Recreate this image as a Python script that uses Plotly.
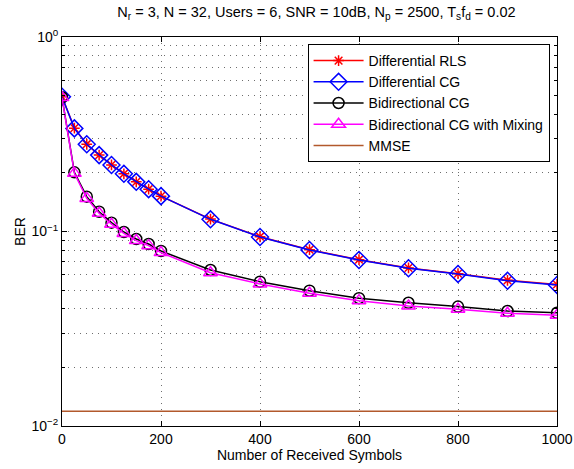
import plotly.graph_objects as go

symbols = [0, 25, 50, 75, 100, 125, 150, 175, 200, 300, 400, 500, 600, 700, 800, 900, 1000]

ber_diff_rls = [0.493, 0.340, 0.281, 0.247, 0.220, 0.198, 0.180, 0.165, 0.152, 0.1158, 0.0940,
                0.0806, 0.0716, 0.0650, 0.0607, 0.0561, 0.0534]
ber_diff_cg = [0.493, 0.339, 0.281, 0.247, 0.2197, 0.198, 0.180, 0.165, 0.152, 0.1155, 0.0937,
               0.0803, 0.0714, 0.0647, 0.0605, 0.0558, 0.0531]
ber_bi_cg = [0.490, 0.2015, 0.151, 0.1264, 0.111, 0.0994, 0.0915, 0.0862, 0.0794, 0.0634, 0.0552,
             0.0496, 0.0454, 0.0430, 0.0411, 0.0390, 0.0382]
ber_bi_cg_mix = [0.488, 0.199, 0.148, 0.124, 0.109, 0.0978, 0.0898, 0.0846, 0.0779, 0.0614, 0.0537,
                 0.0481, 0.0441, 0.0414, 0.0398, 0.0380, 0.0371]
ber_mmse = [0.0119] * len(symbols)

names = ["Differential RLS", "Differential CG", "Bidirectional CG",
         "Bidirectional CG with Mixing", "MMSE"]

x_ticks = [0, 200, 400, 600, 800, 1000]
y_major = [0.01, 0.1, 1.0]
y_major_labels = ["10<sup>−2</sup>", "10<sup>−1</sup>", "10<sup>0</sup>"]
y_minor = [round(d * m, 4) for d in [0.01, 0.1] for m in range(2, 10)]

FONT = "Liberation Sans, Arial, sans-serif"
GRID = "rgb(110,110,110)"

fig = go.Figure()
fig.add_trace(go.Scatter(x=symbols, y=ber_diff_rls, name=names[0], mode="lines+markers",
                         line=dict(color="#ff0000", width=1.5),
                         marker=dict(symbol="asterisk-open", size=9, color="#ff0000",
                                     line=dict(color="#ff0000", width=1.5))))
fig.add_trace(go.Scatter(x=symbols, y=ber_diff_cg, name=names[1], mode="lines+markers",
                         line=dict(color="#0000ff", width=1.5),
                         marker=dict(symbol="diamond-open", size=13, color="#0000ff",
                                     line=dict(color="#0000ff", width=1.5))))
fig.add_trace(go.Scatter(x=symbols, y=ber_bi_cg, name=names[2], mode="lines+markers",
                         line=dict(color="#000000", width=1.5),
                         marker=dict(symbol="circle-open", size=11, color="#000000",
                                     line=dict(color="#000000", width=1.5))))
fig.add_trace(go.Scatter(x=symbols, y=ber_bi_cg_mix, name=names[3], mode="lines+markers",
                         line=dict(color="#ff00ff", width=1.5),
                         marker=dict(symbol="triangle-up-open", size=12, color="#ff00ff",
                                     line=dict(color="#ff00ff", width=1.5))))
fig.add_trace(go.Scatter(x=symbols, y=ber_mmse, name=names[4], mode="lines",
                         line=dict(color="rgb(178,89,44)", width=1.5)))

fig.update_layout(
    width=574, height=469,
    paper_bgcolor="white", plot_bgcolor="white",
    margin=dict(l=62, r=17, t=37, b=43, autoexpand=False),
    font=dict(family=FONT, size=14, color="black"),
    title=dict(text="N<sub>r</sub> = 3, N = 32, Users = 6, SNR = 10dB, N<sub>p</sub> = 2500, "
                    "T<sub>s</sub>f<sub>d</sub> = 0.02",
               x=0.514, xref="paper", xanchor="center", y=0.986, yanchor="top",
               pad=dict(t=0, b=0),
               font=dict(family=FONT, size=14.5, color="black")),
    showlegend=True,
    legend=dict(x=0.985, y=0.982, xanchor="right", yanchor="top",
                bgcolor="white", bordercolor="black", borderwidth=1,
                font=dict(family=FONT, size=14, color="black"),
                tracegroupgap=0, itemwidth=50),
)

fig.update_xaxes(
    range=[0, 1000], tickvals=x_ticks, ticktext=[str(t) for t in x_ticks],
    showline=True, linecolor="black", linewidth=1, mirror="ticks",
    ticks="inside", ticklen=5, tickcolor="black",
    showgrid=True, gridcolor=GRID, griddash="1px,5px", gridwidth=1,
    zeroline=False, automargin=False,
    title=dict(text="Number of Received Symbols", standoff=2,
               font=dict(family=FONT, size=14, color="black")),
    tickfont=dict(family=FONT, size=14, color="black"),
)
fig.update_yaxes(
    type="log", range=[-2, 0], tickvals=y_major, ticktext=y_major_labels,
    showline=True, linecolor="black", linewidth=1, mirror="ticks",
    ticks="inside", ticklen=5, tickcolor="black",
    showgrid=True, gridcolor=GRID, griddash="1px,5px", gridwidth=1,
    minor=dict(tickvals=y_minor, ticks="inside", ticklen=3, tickcolor="black",
               showgrid=True, gridcolor=GRID, griddash="1px,5px", gridwidth=1),
    zeroline=False, automargin=False,
    title=dict(text="BER", standoff=2,
               font=dict(family=FONT, size=14, color="black")),
    tickfont=dict(family=FONT, size=14, color="black"),
)

fig.write_html("out.html", config={"displayModeBar": False},
               post_script="document.body.style.margin='0px';")
